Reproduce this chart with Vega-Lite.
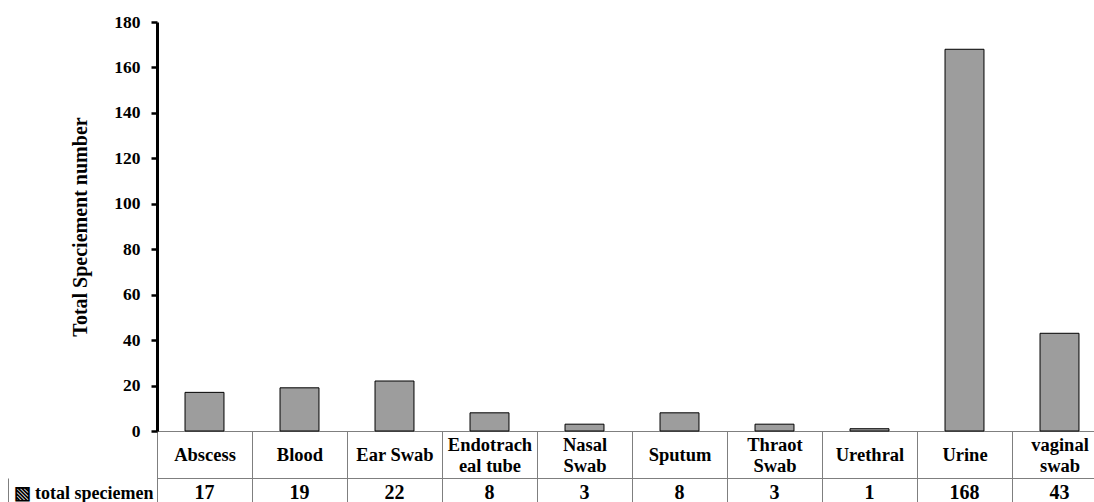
{
  "$schema": "https://vega.github.io/schema/vega-lite/v6.json",
  "width": 1099,
  "height": 409,
  "autosize": {"type": "none"},
  "padding": {"left": 8, "top": 22, "right": 0, "bottom": 71},
  "background": "white",
  "config": {"view": {"stroke": null}},
  "data": {
    "values": [
      {"specimen": "Abscess", "count": 17, "row": "total speciemen"},
      {"specimen": "Blood", "count": 19, "row": "total speciemen"},
      {"specimen": "Ear Swab", "count": 22, "row": "total speciemen"},
      {"specimen": "Endotracheal tube", "count": 8, "row": "total speciemen"},
      {"specimen": "Nasal Swab", "count": 3, "row": "total speciemen"},
      {"specimen": "Sputum", "count": 8, "row": "total speciemen"},
      {"specimen": "Thraot Swab", "count": 3, "row": "total speciemen"},
      {"specimen": "Urethral", "count": 1, "row": "total speciemen"},
      {"specimen": "Urine", "count": 168, "row": "total speciemen"},
      {"specimen": "vaginal swab", "count": 43, "row": "total speciemen"}
    ]
  },
  "layer": [
    {
      "mark": {"type": "bar", "fill": "#9d9d9d", "stroke": "black", "strokeWidth": 1, "width": {"band": 0.41}},
      "encoding": {
        "x": {
          "field": "specimen", "type": "nominal", "sort": null,
          "scale": {"type": "band", "range": [149, 1099], "paddingInner": 0, "paddingOuter": 0},
          "axis": {
            "orient": "bottom", "title": null,
            "domainColor": "#7f7f7f", "domainWidth": 1,
            "ticks": true, "tickBand": "extent", "tickSize": 77, "tickColor": "#7f7f7f", "tickWidth": 1,
            "labelPadding": {"condition": {"test": "indexof(['Endotracheal tube', 'Nasal Swab', 'Thraot Swab', 'vaginal swab'], datum.value) >= 0", "value": -64}, "value": -53.5},
            "labelBaseline": "middle", "labelAngle": 0, "labelAlign": "center",
            "labelFont": "Liberation Serif", "labelFontWeight": "bold", "labelFontSize": 18.5, "labelColor": "black",
            "labelLineHeight": 21, "labelLimit": 0, "labelOverlap": false, "labelFlush": false,
            "labelExpr": "datum.label == 'Endotracheal tube' ? ['Endotrach', 'eal tube'] : datum.label == 'Nasal Swab' ? ['Nasal', 'Swab'] : datum.label == 'Thraot Swab' ? ['Thraot', 'Swab'] : datum.label == 'vaginal swab' ? ['vaginal', 'swab'] : datum.label"
          }
        },
        "y": {
          "field": "count", "type": "quantitative",
          "scale": {"domain": [0, 180], "nice": false},
          "axis": {
            "orient": "left", "offset": -149,
            "values": [0, 20, 40, 60, 80, 100, 120, 140, 160, 180],
            "title": "Total Speciement number",
            "titleFont": "Liberation Serif", "titleFontWeight": "bold", "titleFontSize": 20, "titleColor": "black",
            "titlePadding": 23,
            "grid": false,
            "domainColor": "black", "domainWidth": 3,
            "tickColor": "black", "tickWidth": 2.5, "tickSize": 6,
            "labelPadding": 11,
            "labelFont": "Liberation Serif", "labelFontWeight": "bold", "labelFontSize": 17.5, "labelColor": "black"
          }
        }
      }
    },
    {
      "mark": {"type": "text", "font": "Liberation Serif", "fontWeight": "bold", "fontSize": 20, "color": "black", "align": "center", "baseline": "middle"},
      "encoding": {
        "x": {"field": "specimen", "type": "nominal", "sort": null, "axis": null},
        "y": {
          "field": "row", "type": "nominal",
          "scale": {"type": "band", "range": [456, 486], "paddingInner": 0, "paddingOuter": 0},
          "axis": {
            "orient": "left", "title": null,
            "domain": true, "domainColor": "#7f7f7f", "domainWidth": 1,
            "grid": true, "gridColor": "#7f7f7f", "gridWidth": 1, "gridOpacity": 1,
            "tickBand": "extent", "ticks": false,
            "labelExpr": "datum.label ? '▧ ' + datum.label : ''",
            "labelAlign": "left", "labelPadding": -5, "labelBaseline": "middle",
            "labelFont": "Liberation Serif", "labelFontWeight": "bold", "labelFontSize": 18, "labelColor": "black",
            "labelLimit": 0
          }
        },
        "text": {"field": "count", "type": "quantitative"}
      }
    }
  ],
  "resolve": {"scale": {"y": "independent"}, "axis": {"y": "independent", "x": "independent"}}
}
